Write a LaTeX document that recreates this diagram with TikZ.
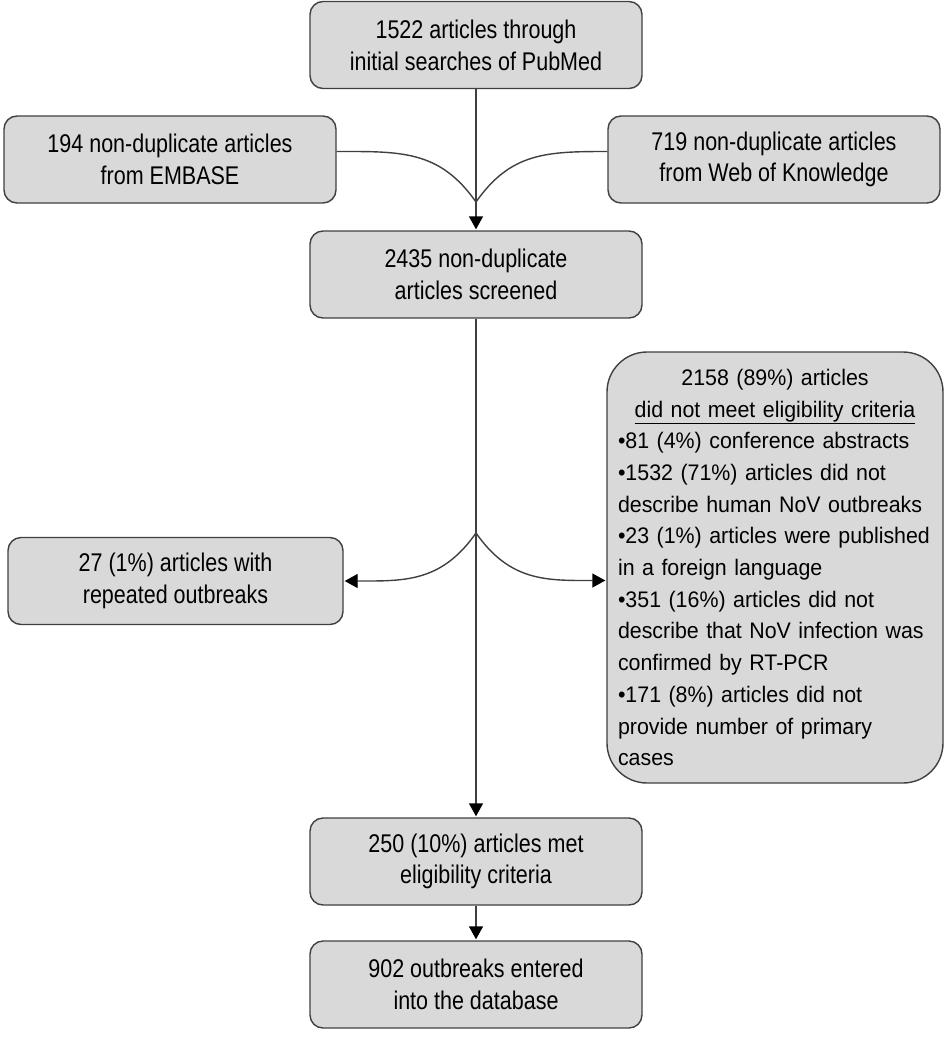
\documentclass[tikz,border=0pt]{standalone}
\usepackage{fontspec}
\setmainfont{Liberation Sans}
\newfontfamily\boxfont{Liberation Sans}[FakeStretch=0.84]
\newfontfamily\listfont{Liberation Sans}[FakeStretch=0.95]
\usetikzlibrary{arrows.meta}

\begin{document}
\begin{tikzpicture}[x=1pt,y=-1pt,>={Triangle[width=14pt,length=13pt,color=black]}]
        \tikzstyle{article}=[rectangle,rounded corners=13pt,draw=black!75,line width=1.4pt,fill=black!15,minimum width=332pt,minimum height=87pt,align=center,font=\boxfont\fontsize{25.6}{31.7}\selectfont]
        \tikzstyle{edge}=[draw,line width=1.4pt,black!75]
        \useasboundingbox (0,0) rectangle (951,1050);

        \node [article] (pubmed) at (476,45) {1522 articles through\\initial searches of PubMed};
        \node [article] (embase) at (170,159.5) {194 non-duplicate articles\\from EMBASE};
        \node [article] (wok) at (774,159.5) {719 non-duplicate articles\\from Web of Knowledge};
        \node [article] (screened) at (476,274.5) {2435 non-duplicate\\articles screened};
        \node [article, minimum width=335pt] (repeated) at (175.5,581) {27 (1\%) articles with\\repeated outbreaks};
        \node [article, rounded corners=40pt, minimum height=431pt, text width=314pt, inner xsep=11pt, align=left,
               font=\listfont\fontsize{22.5}{31.7}\selectfont] (excluded) at (775,567.5)
          {{\centering 2158 (89\%) articles\\ \underline{did not meet eligibility criteria}\par}
           •81 (4\%) conference abstracts\\
           •1532 (71\%) articles did not\\
           describe human NoV outbreaks\\
           •23 (1\%) articles were published\\
           in a foreign language\\
           •351 (16\%) articles did not\\
           describe that NoV infection was\\
           confirmed by RT-PCR\\
           •171 (8\%) articles did not\\
           provide number of primary\\
           cases};
        \node [article] (eligible) at (476,861.5) {250 (10\%) articles met\\eligibility criteria};
        \node [article] (database) at (476,984.5) {902 outbreaks entered\\into the database};

        \coordinate (merge) at (476,202);
        \coordinate (split) at (476,533);

        % merging searches
        \path[edge,->,shorten >=1pt] (pubmed) -- (screened);
        \path[edge] ([yshift=8pt]embase.east) to [out=0,in=125,looseness=1.1] (merge);
        \path[edge] ([yshift=8pt]wok.west) to [out=180,in=55,looseness=1.1] (merge);

        % screening
        \path[edge,->,shorten >=1pt] (screened) -- (eligible);
        \path[edge,->,shorten >=1pt] (split) to [out=235,in=0,looseness=1.1] (repeated.east);
        \path[edge,->,shorten >=1pt] (split) to [out=-55,in=180,looseness=1.1] ([yshift=-13pt]excluded.west);
        \path[edge,->,shorten >=1pt] (eligible) -- (database);
\end{tikzpicture}
\end{document}
